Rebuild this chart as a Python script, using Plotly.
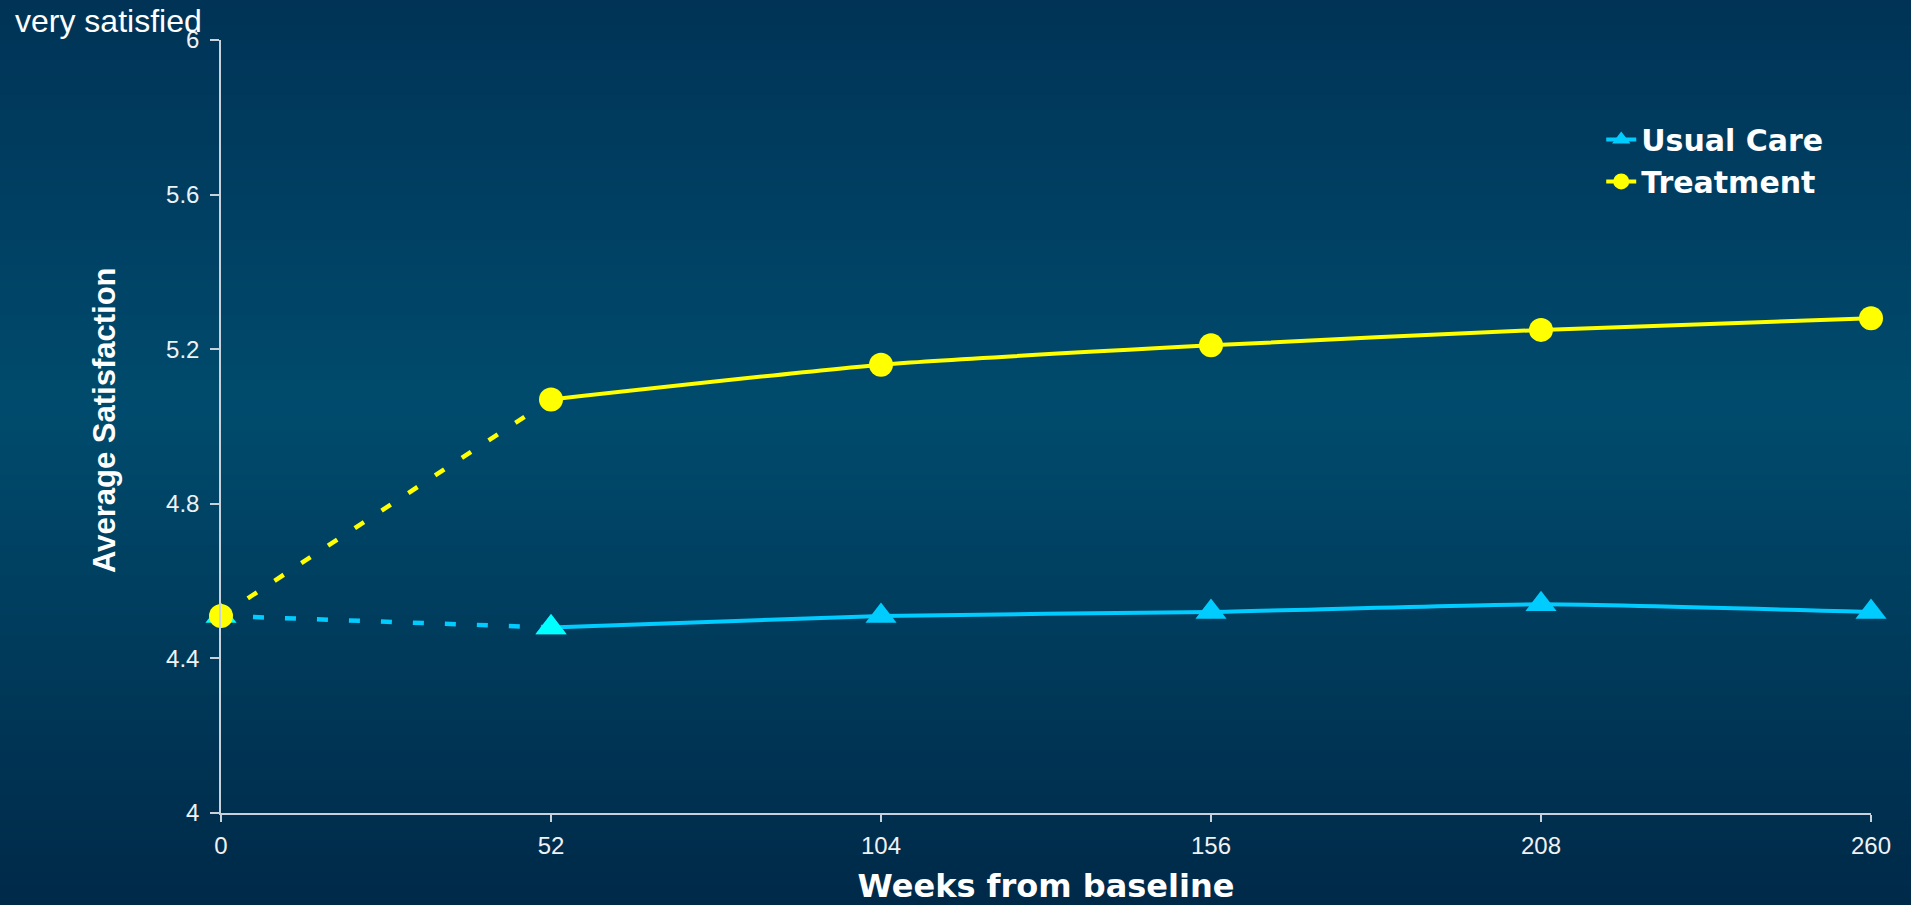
import plotly.graph_objects as go

# ---- data ----
weeks = [0, 52, 104, 156, 208, 260]
usual_care = [4.51, 4.48, 4.51, 4.52, 4.54, 4.52]
treatment = [4.51, 5.07, 5.16, 5.21, 5.25, 5.28]
y_ticks = [4, 4.4, 4.8, 5.2, 5.6, 6]
y_tick_labels = ["4", "4.4", "4.8", "5.2", "5.6", "6"]
series_names = ["Usual Care", "Treatment"]

W, H = 1911, 905
ML, MR, MT, MB = 221, 40, 40, 92
plot_w = W - ML - MR
plot_h = H - MT - MB

CYAN = "#00CCFF"
CYAN_HI = "#00FFFF"
YELLOW = "#FFFF00"
AXIS = "#c8d2dc"
BOLD = "DejaVu Sans"
REG = "Liberation Sans, Arial, sans-serif"

fig = go.Figure()

# dashed baseline segments (0 -> 52)
fig.add_trace(go.Scatter(x=weeks[:2], y=usual_care[:2], mode="lines",
                         line=dict(color=CYAN, width=4.5, dash="11px,21px"),
                         showlegend=False, hoverinfo="skip", cliponaxis=False))
fig.add_trace(go.Scatter(x=weeks[:2], y=treatment[:2], mode="lines",
                         line=dict(color=YELLOW, width=4.5, dash="11px,21px"),
                         showlegend=False, hoverinfo="skip", cliponaxis=False))

# Usual care solid
fig.add_trace(go.Scatter(x=weeks[1:], y=usual_care[1:], mode="lines+markers",
                         name=series_names[0],
                         line=dict(color=CYAN, width=4, shape="spline", smoothing=0.5),
                         marker=dict(symbol="triangle-up", size=27, color=CYAN),
                         cliponaxis=False))
fig.add_trace(go.Scatter(x=weeks[:2], y=usual_care[:2], mode="markers",
                         showlegend=False,
                         marker=dict(symbol="triangle-up", size=27, color=CYAN_HI),
                         cliponaxis=False))
# Treatment solid
fig.add_trace(go.Scatter(x=weeks[1:], y=treatment[1:], mode="lines+markers",
                         name=series_names[1],
                         line=dict(color=YELLOW, width=4, shape="spline", smoothing=0.5),
                         marker=dict(symbol="circle", size=24, color=YELLOW),
                         cliponaxis=False))
fig.add_trace(go.Scatter(x=weeks[:1], y=treatment[:1], mode="markers",
                         showlegend=False,
                         marker=dict(symbol="circle", size=24, color=YELLOW),
                         cliponaxis=False))

# vertical gradient background via stripes
stops = [(0.0, (0, 0x33, 0x56)), (0.45, (0, 0x4b, 0x6d)), (1.0, (0, 0x29, 0x48))]


def col_at(t):
    for (t0, c0), (t1, c1) in zip(stops[:-1], stops[1:]):
        if t0 <= t <= t1:
            f = (t - t0) / (t1 - t0)
            return "rgb(%d,%d,%d)" % tuple(round(a + (b - a) * f) for a, b in zip(c0, c1))
    return "rgb(%d,%d,%d)" % stops[-1][1]


shapes = []
step = 5
for py in range(0, H + step, step):
    y_top = (H - MB - py) / plot_h
    y_bot = (H - MB - (py + step + 1)) / plot_h
    shapes.append(dict(type="rect", xref="paper", yref="paper", layer="below",
                       x0=-0.2, x1=1.1, y0=y_bot, y1=y_top,
                       fillcolor=col_at(min((py + step / 2) / H, 1.0)), line=dict(width=0)))


def px_x(px):
    return (px - ML) / plot_w


def px_y(py):
    return (H - MB - py) / plot_h


fig.update_layout(
    width=W, height=H,
    margin=dict(l=ML, r=MR, t=MT, b=MB, autoexpand=False),
    paper_bgcolor="#002a48",
    plot_bgcolor="rgba(0,0,0,0)",
    shapes=shapes,
    font=dict(family=REG, color="white"),
    showlegend=True,
    legend=dict(x=0.8365, y=0.905, xanchor="left", yanchor="top",
                bgcolor="rgba(0,0,0,0)",
                font=dict(family=BOLD, size=30, color="white", weight="bold"),
                itemwidth=30, tracegroupgap=0),
    xaxis=dict(range=[0, 260], tickvals=weeks, ticktext=[str(w) for w in weeks],
               showgrid=False, zeroline=False, showline=True, linecolor=AXIS, linewidth=1.5,
               ticks="outside", ticklen=7, tickcolor=AXIS, tickwidth=1.5,
               tickfont=dict(family=REG, size=24, color="#eef2f5"),
               ticklabelstandoff=3, automargin=False,
               title=dict(text="Weeks from baseline", standoff=20,
                          font=dict(family=BOLD, size=32, color="white", weight="bold"))),
    yaxis=dict(range=[4, 6], tickvals=y_ticks, ticktext=y_tick_labels,
               showgrid=False, zeroline=False, showline=True, linecolor=AXIS, linewidth=1.5,
               ticks="outside", ticklen=9, tickcolor=AXIS, tickwidth=1.5,
               tickfont=dict(family=REG, size=24, color="#eef2f5"),
               ticklabelstandoff=6, automargin=False),
    annotations=[
        dict(text="very satisfied", xref="paper", yref="paper",
             x=px_x(13), y=px_y(21), xanchor="left", yanchor="middle",
             showarrow=False, font=dict(family=REG, size=32, color="white")),
        dict(text="<b>Average Satisfaction</b>", xref="paper", yref="paper",
             x=px_x(104), y=px_y(420), xanchor="center", yanchor="middle", textangle=-90,
             showarrow=False, font=dict(family=REG, size=31, color="white")),
    ],
)

fig.write_html("out.html")
